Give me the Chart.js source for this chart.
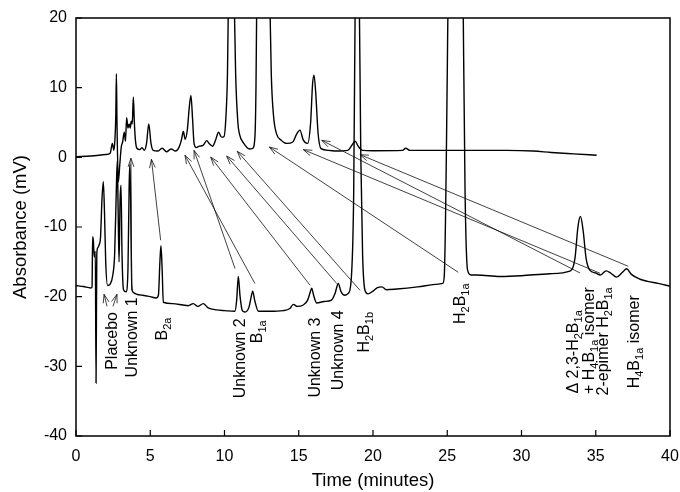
<!DOCTYPE html>
<html><head><meta charset="utf-8">
<script src="https://cdn.jsdelivr.net/npm/chart.js@4.4.0/dist/chart.umd.min.js"></script>
<style>html,body{margin:0;padding:0;background:#fff;}</style>
</head><body>
<canvas id="c" width="680" height="492" style="width:680px;height:492px;display:block"></canvas>
<script>
// ---- data ----
const timeUpper = [0,1.0,2.0,2.3,2.45,2.55,2.62,2.68,2.72,2.76,2.85,2.95,3.05,3.14,3.25,3.33,3.41,3.5,3.58,3.65,3.72,3.79,3.86,3.93,4.0,4.1,4.3,4.45,4.6,4.75,4.9,5.05,5.2,5.5,5.8,6.1,6.4,6.7,6.95,7.1,7.23,7.35,7.5,7.62,7.74,7.85,7.95,8.1,8.3,8.55,8.8,9.0,9.2,9.4,9.6,9.8,9.97,10.1,10.2,10.26,10.45,10.66,10.75,10.9,11.0,11.3,11.7,11.9,12.05,12.12,12.17,12.6,13.06,13.15,13.3,13.5,13.8,14.2,14.6,14.85,15.08,15.3,15.6,15.8,15.93,16.03,16.15,16.3,16.5,17.0,17.55,18.3,18.6,18.8,19.0,19.3,20,22.0,22.2,22.5,24.5,27,29,30.8,32,33.5,35.06];
const absUpper  = [0.1,0.2,0.4,0.6,2.0,1.0,2.5,6,12.0,5,-3.5,-1,1.5,2.2,3.6,2.3,5.7,4.2,4.8,4.2,5.2,4.8,8.65,5,2.5,1.3,1.1,1.4,1.0,2.0,4.8,2.0,1.0,0.9,1.3,0.8,1.2,0.9,1.5,2.5,3.7,2.6,4.0,7.0,8.9,5.5,2.0,1.4,1.6,1.7,2.4,1.9,1.6,2.5,3.6,2.9,3.0,6,12,22,60,22,12,5,3.4,2.0,1.2,1.3,3,10,22,80,22,12,6,3.4,2.5,2.0,2.2,3.3,3.9,2.5,2.0,5,10.5,11.8,9,3.5,1.25,1.0,0.9,1.0,1.8,2.3,1.6,1.0,0.95,1.0,1.3,1.0,1.0,1.0,1.0,0.9,0.7,0.5,0.3];

const timeLower = [0,0.5,1.0,1.08,1.12,1.17,1.23,1.3,1.35,1.4,1.46,1.55,1.65,1.75,1.84,1.92,2.0,2.13,2.3,2.47,2.6,2.7,2.78,2.84,2.9,2.97,3.03,3.1,3.2,3.37,3.5,3.58,3.63,3.68,3.75,3.82,4.5,5.0,5.39,5.55,5.65,5.72,5.8,5.88,6.5,7.2,7.55,7.9,8.2,8.57,8.9,9.47,10.0,10.7,10.82,10.93,11.05,11.2,11.38,11.65,11.78,11.9,12.03,12.28,13.0,13.96,14.4,14.63,14.9,15.3,15.6,15.75,15.87,16.0,16.2,16.7,17.2,17.45,17.66,17.85,18.1,18.35,18.55,18.7,18.8,18.94,19.08,19.18,19.3,19.46,19.66,20.0,20.3,20.6,20.9,21.6,23.0,24.4,24.7,24.8,25.04,25.56,26.08,26.2,26.37,26.6,27.0,28.55,30.0,31.9,33.3,33.6,33.8,33.97,34.15,34.35,34.6,35.0,35.3,35.7,36.0,36.4,36.8,37.08,37.4,37.98,38.5,39.2,40];
const absLower  = [-18.4,-18.55,-18.75,-18.6,-11.4,-12,-14.3,-13.5,-32.4,-14,-13,-12.6,-11.5,-6,-3.5,-8,-15,-18.4,-18.2,-17,-14,-6,-0.5,-8,-15,-6,-4,-14,-19,-19.3,-16,-4,-1,-6,-18,-19.3,-19.8,-20.0,-20.2,-19.8,-15,-12.7,-16,-20.8,-21,-21.2,-21.3,-21,-21.4,-21.0,-21.6,-21.9,-22.0,-22.1,-20.5,-17.1,-20,-22,-22.2,-21.5,-20.2,-19.2,-20.5,-22.1,-22.1,-22,-21.7,-21.1,-21.4,-21.2,-20.5,-19.5,-18.8,-19.8,-20.9,-20.7,-20.5,-19.5,-18.1,-19.3,-19.8,-19.5,-17,-5,22,80,22,0,-14,-19.1,-19.6,-19.2,-18.7,-18.6,-19.0,-18.9,-18.6,-18.2,-18.1,-17,20,150,20,-5,-16.2,-16.9,-16.9,-17.1,-17.0,-16.7,-16.3,-14.5,-10,-8.5,-10.5,-14.5,-16.2,-16.6,-16.9,-16.3,-16.6,-17.2,-16.5,-16.0,-16.8,-17.5,-17.8,-18.1,-18.5];

const xTicks = [0,5,10,15,20,25,30,35,40];
const yTicks = [-40,-30,-20,-10,0,10,20];
const xTitle = 'Time (minutes)';
const yTitle = 'Absorbance (mV)';

// peak labels (rotated text), anchored at text end: t = time, v = mV
const peakLabels = [
  {text:'Placebo', t:2.76, v:-22.2},
  {text:'Unknown 1', t:4.11, v:-20.1},
  {text:'B_{2a}', t:6.13, v:-23.0},
  {text:'Unknown 2', t:11.38, v:-23.1},
  {text:'B_{1a}', t:12.53, v:-23.4},
  {text:'Unknown 3', t:16.43, v:-23.0},
  {text:'Unknown 4', t:17.98, v:-21.95},
  {text:'H_{2}B_{1b}', t:19.73, v:-22.2},
  {text:'H_{2}B_{1a}', t:26.2, v:-18.1},
  {text:'\u0394 2,3-H_{2}B_{1a}', t:33.8, v:-21.95},
  {text:'+ H_{4}B_{1a} isomer', t:34.88, v:-18.65},
  {text:'2-epimer H_{2}B_{1a}', t:35.82, v:-18.65},
  {text:'H_{4}B_{1a} isomer', t:37.91, v:-19.8}
];
// arrows: [tailT, tailV, headT, headV]
const arrows = [
  [2.09,-21.4,1.89,-19.66],
  [2.49,-21.4,2.76,-19.66],
  [3.74,-19.1,3.70,-0.14],
  [5.70,-11.9,5.08,-0.29],
  [10.71,-15.97,7.95,1.0],
  [12.05,-18.12,7.34,0.29],
  [15.76,-18.36,9.07,0.04],
  [17.56,-18.12,10.15,0.19],
  [19.12,-19.08,10.86,0.86],
  [25.74,-16.5,13.02,1.48],
  [33.94,-16.6,16.55,2.44],
  [35.29,-16.64,15.31,1.1],
  [37.19,-15.64,19.12,0.39]
];

const FONT = '"Liberation Sans", Arial, Helvetica, sans-serif';
const upperPts = timeUpper.map((t,i)=>({x:t,y:absUpper[i]}));
const lowerPts = timeLower.map((t,i)=>({x:t,y:absLower[i]}));

function parseSegs(s){
  const out=[]; const re=/_\{([^}]*)\}/g; let last=0,m;
  while((m=re.exec(s))){ if(m.index>last) out.push({t:s.slice(last,m.index),sub:false}); out.push({t:m[1],sub:true}); last=re.lastIndex; }
  if(last<s.length) out.push({t:s.slice(last),sub:false});
  return out;
}

const overlay = {
  id:'overlay',
  afterDatasetsDraw(chart){
    const {ctx, chartArea:ca, scales:{x,y}} = chart;
    ctx.save();
    ctx.strokeStyle='#000'; ctx.lineWidth=1.5;
    ctx.strokeRect(ca.left, ca.top, ca.right-ca.left, ca.bottom-ca.top);
    ctx.lineWidth=1.2;
    ctx.beginPath();
    xTicks.forEach(v=>{const px=x.getPixelForValue(v); ctx.moveTo(px,ca.bottom); ctx.lineTo(px,ca.bottom-6);});
    yTicks.forEach(v=>{const py=y.getPixelForValue(v); ctx.moveTo(ca.left,py); ctx.lineTo(ca.left+6,py);});
    ctx.stroke();
    ctx.strokeStyle='#111'; ctx.lineWidth=0.8;
    arrows.forEach(a=>{
      const x0=x.getPixelForValue(a[0]), y0=y.getPixelForValue(a[1]);
      const x1=x.getPixelForValue(a[2]), y1=y.getPixelForValue(a[3]);
      const ang=Math.atan2(y1-y0,x1-x0), L=9, w=0.33;
      ctx.beginPath(); ctx.moveTo(x0,y0); ctx.lineTo(x1,y1);
      ctx.moveTo(x1-L*Math.cos(ang-w), y1-L*Math.sin(ang-w)); ctx.lineTo(x1,y1);
      ctx.lineTo(x1-L*Math.cos(ang+w), y1-L*Math.sin(ang+w));
      ctx.stroke();
    });
    ctx.fillStyle='#000'; ctx.textBaseline='alphabetic'; ctx.textAlign='left';
    peakLabels.forEach(l=>{
      const segs=parseSegs(l.text);
      const px=x.getPixelForValue(l.t), py=y.getPixelForValue(l.v);
      let total=0;
      segs.forEach(s=>{ctx.font=(s.sub?'11px ':'16px ')+FONT; s.w=ctx.measureText(s.t).width; total+=s.w;});
      ctx.save(); ctx.translate(px,py); ctx.rotate(-Math.PI/2);
      let cx=-total;
      segs.forEach(s=>{ctx.font=(s.sub?'11px ':'16px ')+FONT; ctx.fillText(s.t,cx,s.sub?4:0); cx+=s.w;});
      ctx.restore();
    });
    ctx.restore();
  }
};

new Chart(document.getElementById('c'), {
  type:'line',
  data:{datasets:[
    {data:upperPts, borderColor:'#000', borderWidth:1.4, pointRadius:0, fill:false, cubicInterpolationMode:'monotone'},
    {data:lowerPts, borderColor:'#000', borderWidth:1.4, pointRadius:0, fill:false, cubicInterpolationMode:'monotone'}
  ]},
  options:{
    responsive:false, animation:false, devicePixelRatio:1,
    layout:{padding:{left:0,right:10,top:18,bottom:0}},
    plugins:{legend:{display:false}, tooltip:{enabled:false}},
    scales:{
      x:{type:'linear', min:0, max:40,
        afterBuildTicks(s){s.ticks=xTicks.map(v=>({value:v}));},
        grid:{display:false, drawTicks:false}, border:{display:false},
        ticks:{color:'#000', font:{family:FONT,size:16}, padding:11, maxRotation:0, autoSkip:false},
        title:{display:true, text:xTitle, color:'#000', font:{family:FONT,size:18.5,lineHeight:1}, padding:{top:0,bottom:2}},
        afterFit(s){s.height=56; s.paddingLeft=0; s.paddingRight=0;}
      },
      y:{type:'linear', min:-40, max:20,
        afterBuildTicks(s){s.ticks=yTicks.map(v=>({value:v}));},
        grid:{display:false, drawTicks:false}, border:{display:false},
        ticks:{color:'#000', font:{family:FONT,size:16}, padding:9, autoSkip:false},
        title:{display:true, text:yTitle, color:'#000', font:{family:FONT,size:18.5,lineHeight:1}, padding:{top:12,bottom:0}},
        afterFit(s){s.width=76; s.paddingTop=0; s.paddingBottom=0;}
      }
    }
  },
  plugins:[overlay]
});
</script>
</body></html>
